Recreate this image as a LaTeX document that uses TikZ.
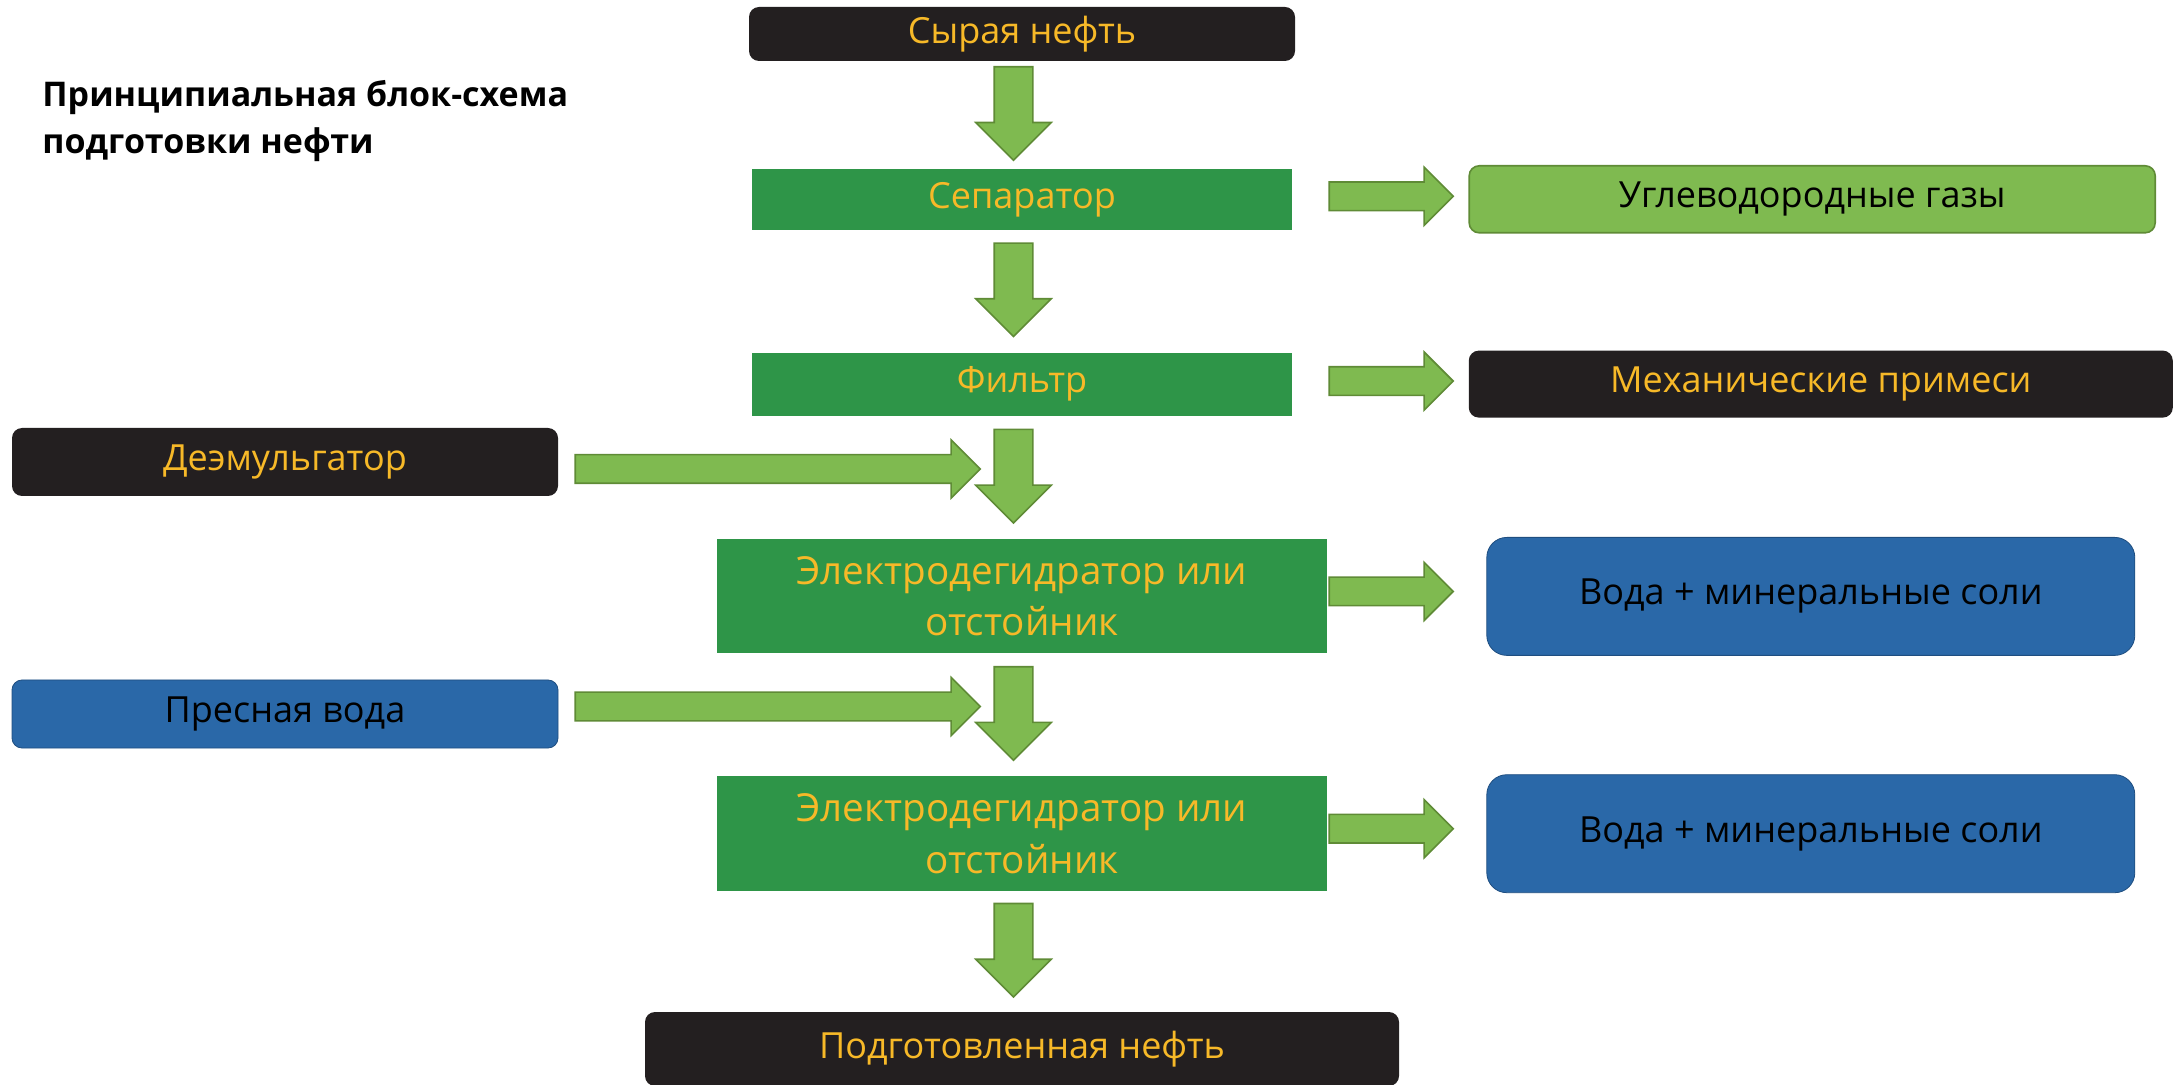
\documentclass[tikz,border=0pt]{standalone}
\usepackage{fontspec}
\setmainfont{Open Sans}
\usetikzlibrary{positioning,shapes.arrows}
\definecolor{ink}{HTML}{231F20}
\definecolor{gold}{HTML}{F7B928}
\definecolor{leaf}{HTML}{2E9548}
\definecolor{lime}{HTML}{7FBA50}
\definecolor{limeline}{HTML}{5F8B36}
\definecolor{sea}{HTML}{2A68A8}
\definecolor{sealine}{HTML}{1F4E80}
\tikzset{
	%Define style for the process boxes
	stage/.style={
		rectangle,
		fill=leaf,
		text=gold,
		inner sep=2pt,
		align=center,
		font=\fontsize{18}{24.3}\selectfont},
	%Define style for inputs and products
	feed/.style={
		rectangle,
		rounded corners=5pt,
		fill=ink,
		text=gold,
		inner sep=2pt,
		font=\fontsize{18}{24.3}\selectfont},
	gasbox/.style={feed, fill=lime, draw=limeline, thick, text=black},
	waterbox/.style={
		feed,
		fill=sea, draw=sealine,
		text=black,
		rounded corners=10pt,
		minimum width=324pt,
		minimum height=59pt},
	% Define block arrow styles
	downarr/.style={
		single arrow,
		shape border rotate=270,
		fill=lime, draw=limeline, thick,
		inner sep=9.25pt,
		minimum width=37pt,
		single arrow head extend=9.25pt,
		minimum height=46.75pt,
		xshift=-4.25pt, yshift=5.5pt},
	sidearr/.style={
		single arrow,
		fill=lime, draw=limeline, thick,
		inner sep=6.75pt,
		minimum width=28.25pt,
		single arrow head extend=7.375pt}
}

\begin{document}
\begin{tikzpicture}[node distance=1cm]
	\useasboundingbox (0,0) rectangle (1088pt,-542.5pt);
	
	\node[anchor=north west, align=left, inner sep=0pt, font=\fontsize{17}{23.5}\selectfont\bfseries] (title) at (21pt,-40pt) {Принципиальная блок-схема\\ подготовки нефти};
	
	\node[feed, minimum width=273pt, minimum height=27pt] (crude) at (511pt,-17pt) {Сырая нефть};
	\node[stage, minimum width=270pt, minimum height=30.5pt, below = 53.5pt of crude] (sep) {Сепаратор};
	\node[stage, minimum width=270pt, minimum height=31.5pt, below = 61pt of sep] (filter) {Фильтр};
	\node[stage, minimum width=305pt, minimum height=57pt, below = 61.5pt of filter, font=\fontsize{19.3}{25.8}\selectfont] (dehyd1) {Электродегидратор или\\ отстойник};
	\node[stage, minimum width=305pt, minimum height=57.5pt, below = 61pt of dehyd1, font=\fontsize{19.3}{25.8}\selectfont] (dehyd2) {Электродегидратор или\\ отстойник};
	\node[feed, minimum width=377pt, minimum height=37pt, below = 60pt of dehyd2] (product) {Подготовленная нефть};
	
	\node[gasbox, minimum width=343pt, minimum height=33.5pt, right = 88pt of sep] (gas) {Углеводородные газы};
	\node[feed, minimum width=352pt, minimum height=33.5pt, right = 88pt of filter] (solids) {Механические примеси};
	\node[waterbox, right = 79.5pt of dehyd1] (brine1) {Вода + минеральные соли};
	\node[waterbox, right = 79.5pt of dehyd2] (brine2) {Вода + минеральные соли};
	
	\node[feed, minimum width=273pt, minimum height=34pt] (demul) at (142.5pt,-231pt) {Деэмульгатор};
	\node[waterbox, minimum width=273pt, minimum height=34pt, rounded corners=5pt] (fresh) at (142.5pt,-357pt) {Пресная вода};
	
	% side arrows
	\node[sidearr, minimum height=62pt, right = 18pt of sep, yshift=1.5pt] (r1) {};
	\node[sidearr, minimum height=62pt, right = 18pt of filter, yshift=1.5pt] (r2) {};
	\node[sidearr, minimum height=62pt, right = 0.5pt of dehyd1, yshift=2.5pt] (r3) {};
	\node[sidearr, minimum height=62pt, right = 0.5pt of dehyd2, yshift=2.5pt] (r4) {};
	\node[sidearr, minimum height=202.5pt, right = 8pt of demul, yshift=-3.5pt] (l1) {};
	\node[sidearr, minimum height=202.5pt, right = 8pt of fresh, yshift=3.75pt] (l2) {};
	
	% main flow
	\path (crude.south) -- node[downarr] (d1) {} (sep.north);
	\path (sep.south) -- node[downarr] (d2) {} (filter.north);
	\path (filter.south) -- node[downarr] (d3) {} (dehyd1.north);
	\path (dehyd1.south) -- node[downarr] (d4) {} (dehyd2.north);
	\path (dehyd2.south) -- node[downarr] (d5) {} (product.north);
	
\end{tikzpicture}
\end{document}
